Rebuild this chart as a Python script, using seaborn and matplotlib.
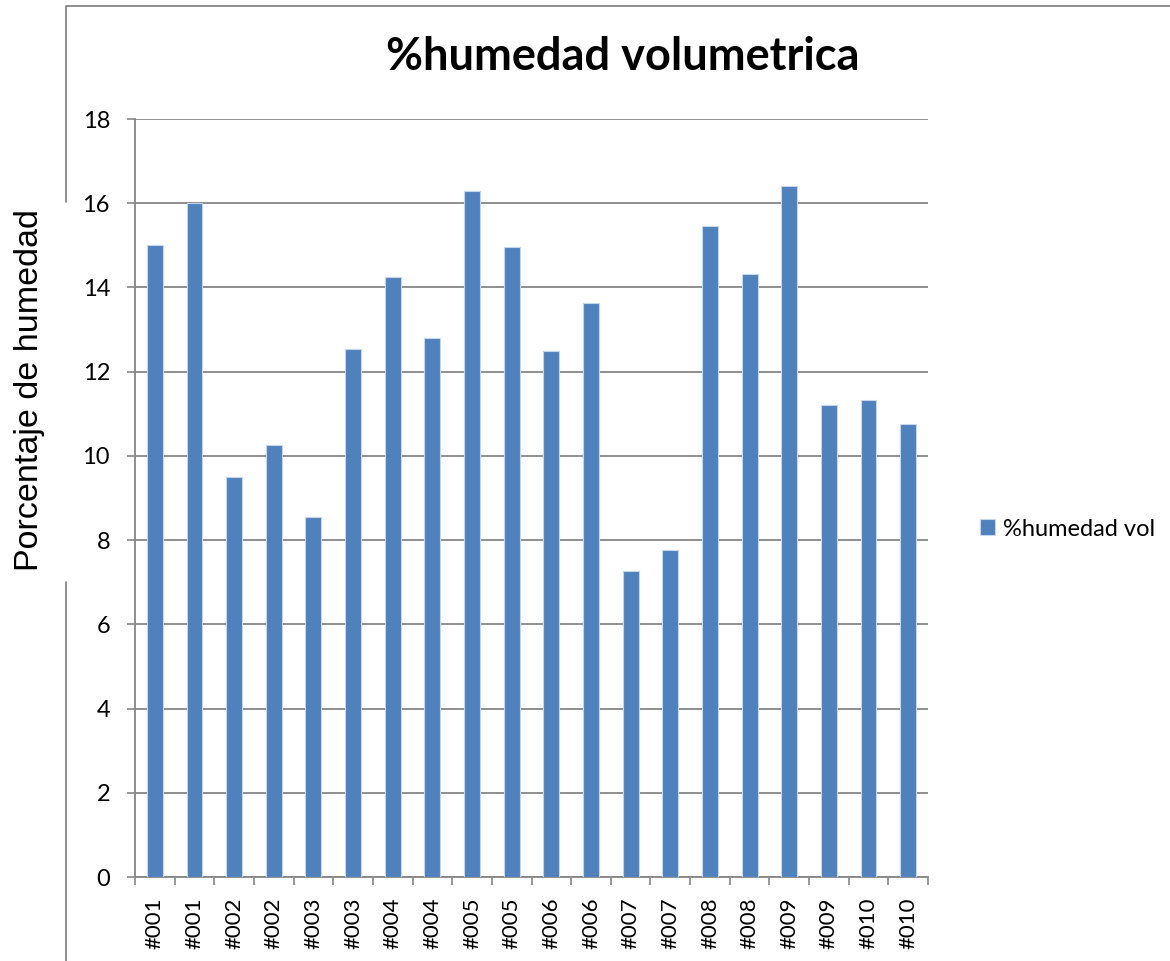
import pandas as pd
import matplotlib.pyplot as plt
import seaborn as sns
from matplotlib.lines import Line2D

# datos de la gráfica
muestras = ['#001', '#001', '#002', '#002', '#003', '#003', '#004', '#004', '#005', '#005',
            '#006', '#006', '#007', '#007', '#008', '#008', '#009', '#009', '#010', '#010']
humedad_vol = [15.0, 16.0, 9.5, 10.25, 8.56, 12.53, 14.25, 12.81, 16.29, 14.95,
               12.49, 13.64, 7.27, 7.76, 15.45, 14.32, 16.42, 11.21, 11.32, 10.76]
yticks = [0, 2, 4, 6, 8, 10, 12, 14, 16, 18]

sns.set_style('white')
plt.rcParams['font.family'] = ['Lato', 'DejaVu Sans']
plt.rcParams['text.color'] = 'black'
plt.rcParams['xtick.labelcolor'] = 'black'
plt.rcParams['ytick.labelcolor'] = 'black'

df = pd.DataFrame({'pos': range(len(muestras)), 'valor': humedad_vol})

fig = plt.figure(figsize=(11.7, 9.61), dpi=100)
ax = fig.add_axes([135 / 1170, 84 / 961, (928 - 135) / 1170, (877 - 119) / 961])

gris = '#868686'
sns.barplot(data=df, x='pos', y='valor', color='#4F81BD', width=0.4, saturation=1,
            edgecolor='#C6D5EA', linewidth=0.8, label='%humedad vol', ax=ax, zorder=3)

ax.set_ylim(0, 18)
ax.set_xlim(-0.5, len(muestras) - 0.5)
ax.set_yticks(yticks)
ax.set_yticklabels([str(t) for t in yticks], fontsize=17)
ax.yaxis.grid(True, color=gris, linewidth=1.3)
ax.set_axisbelow(True)

ax.set_xticks(range(len(muestras)))
ax.set_xticklabels(muestras, rotation=90, fontsize=16, va='top')
ax.set_xticks([i - 0.5 for i in range(len(muestras) + 1)], minor=True)
ax.tick_params(axis='x', which='major', length=0, pad=15)
ax.tick_params(axis='x', which='minor', length=6, width=1.2, color=gris, direction='out',
               bottom=True)
ax.tick_params(axis='y', length=6, width=1.2, color=gris, direction='out', pad=12, left=True)

for s in ['top', 'right']:
    ax.spines[s].set_visible(False)
for s in ['left', 'bottom']:
    ax.spines[s].set_color(gris)
    ax.spines[s].set_linewidth(1.3)

ax.set_xlabel('')
ax.set_ylabel('')

# título, etiqueta del eje y leyenda
fig.text(623 / 1170, 1 - 57 / 961, '%humedad volumetrica', fontsize=32.5, fontweight='bold',
         ha='center', va='center')
fig.text(30 / 1170, 1 - 390 / 961, 'Porcentaje de humedad', fontsize=24.5, rotation=90,
         ha='center', va='center', family=['Liberation Sans', 'DejaVu Sans'])
ax.legend(loc='center left', bbox_to_anchor=(968 / 1170, 1 - 529 / 961),
          bbox_transform=fig.transFigure, frameon=False, fontsize=17,
          handlelength=0.65, handleheight=0.65, handletextpad=0.35, borderpad=0)

# marco del área del gráfico
fig.add_artist(Line2D([66 / 1170, 66 / 1170, 1], [1 - 202 / 961, 1 - 6 / 961, 1 - 6 / 961],
                      color=gris, linewidth=1.3))
fig.add_artist(Line2D([66 / 1170, 66 / 1170], [1 - 582 / 961, 0], color=gris, linewidth=1.3))

fig.savefig('out.png', dpi=100, facecolor='white')
plt.close()
